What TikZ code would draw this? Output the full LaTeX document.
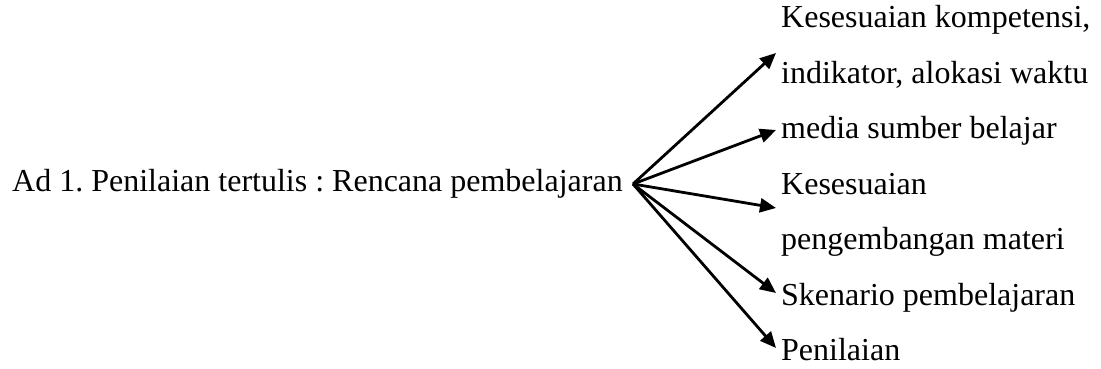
\documentclass[tikz,border=0pt]{standalone}
\usepackage{fontspec}
\setmainfont{Liberation Serif}
\usetikzlibrary{arrows.meta}
\frenchspacing
\begin{document}
\begin{tikzpicture}[x=1pt,y=1pt,
  label/.style={anchor=base west,inner sep=0pt,font=\fontsize{32}{38}\selectfont},
  branch/.style={line width=2.8pt,-{Triangle[length=16pt,width=14pt]}}]
\useasboundingbox (0,0) rectangle (1101,369);
% left statement
\node[label] (src) at (12,177) {Ad 1. Penilaian tertulis : Rencana pembelajaran};
% right column of items
\node[label] (r1) at (781,341) {Kesesuaian kompetensi,};
\node[label] (r2) at (781,285.5) {indikator, alokasi waktu};
\node[label] (r3) at (781,230) {media sumber belajar};
\node[label] (r4) at (781,174.5) {Kesesuaian};
\node[label] (r5) at (781,119) {pengembangan materi};
\node[label] (r6) at (781,63.5) {Skenario pembelajaran};
\node[label] (r7) at (781,8) {Penilaian};
% fan of arrows
\coordinate (hub) at (633,185);
\coordinate (t1) at (776,316);
\coordinate (t2) at (776,239);
\coordinate (t3) at (776,161);
\coordinate (t4) at (776,76);
\coordinate (t5) at (776,21);
\foreach \t in {t1,t2,t3,t4,t5}
  \draw[branch] (hub) -- (\t);
\end{tikzpicture}
\end{document}
